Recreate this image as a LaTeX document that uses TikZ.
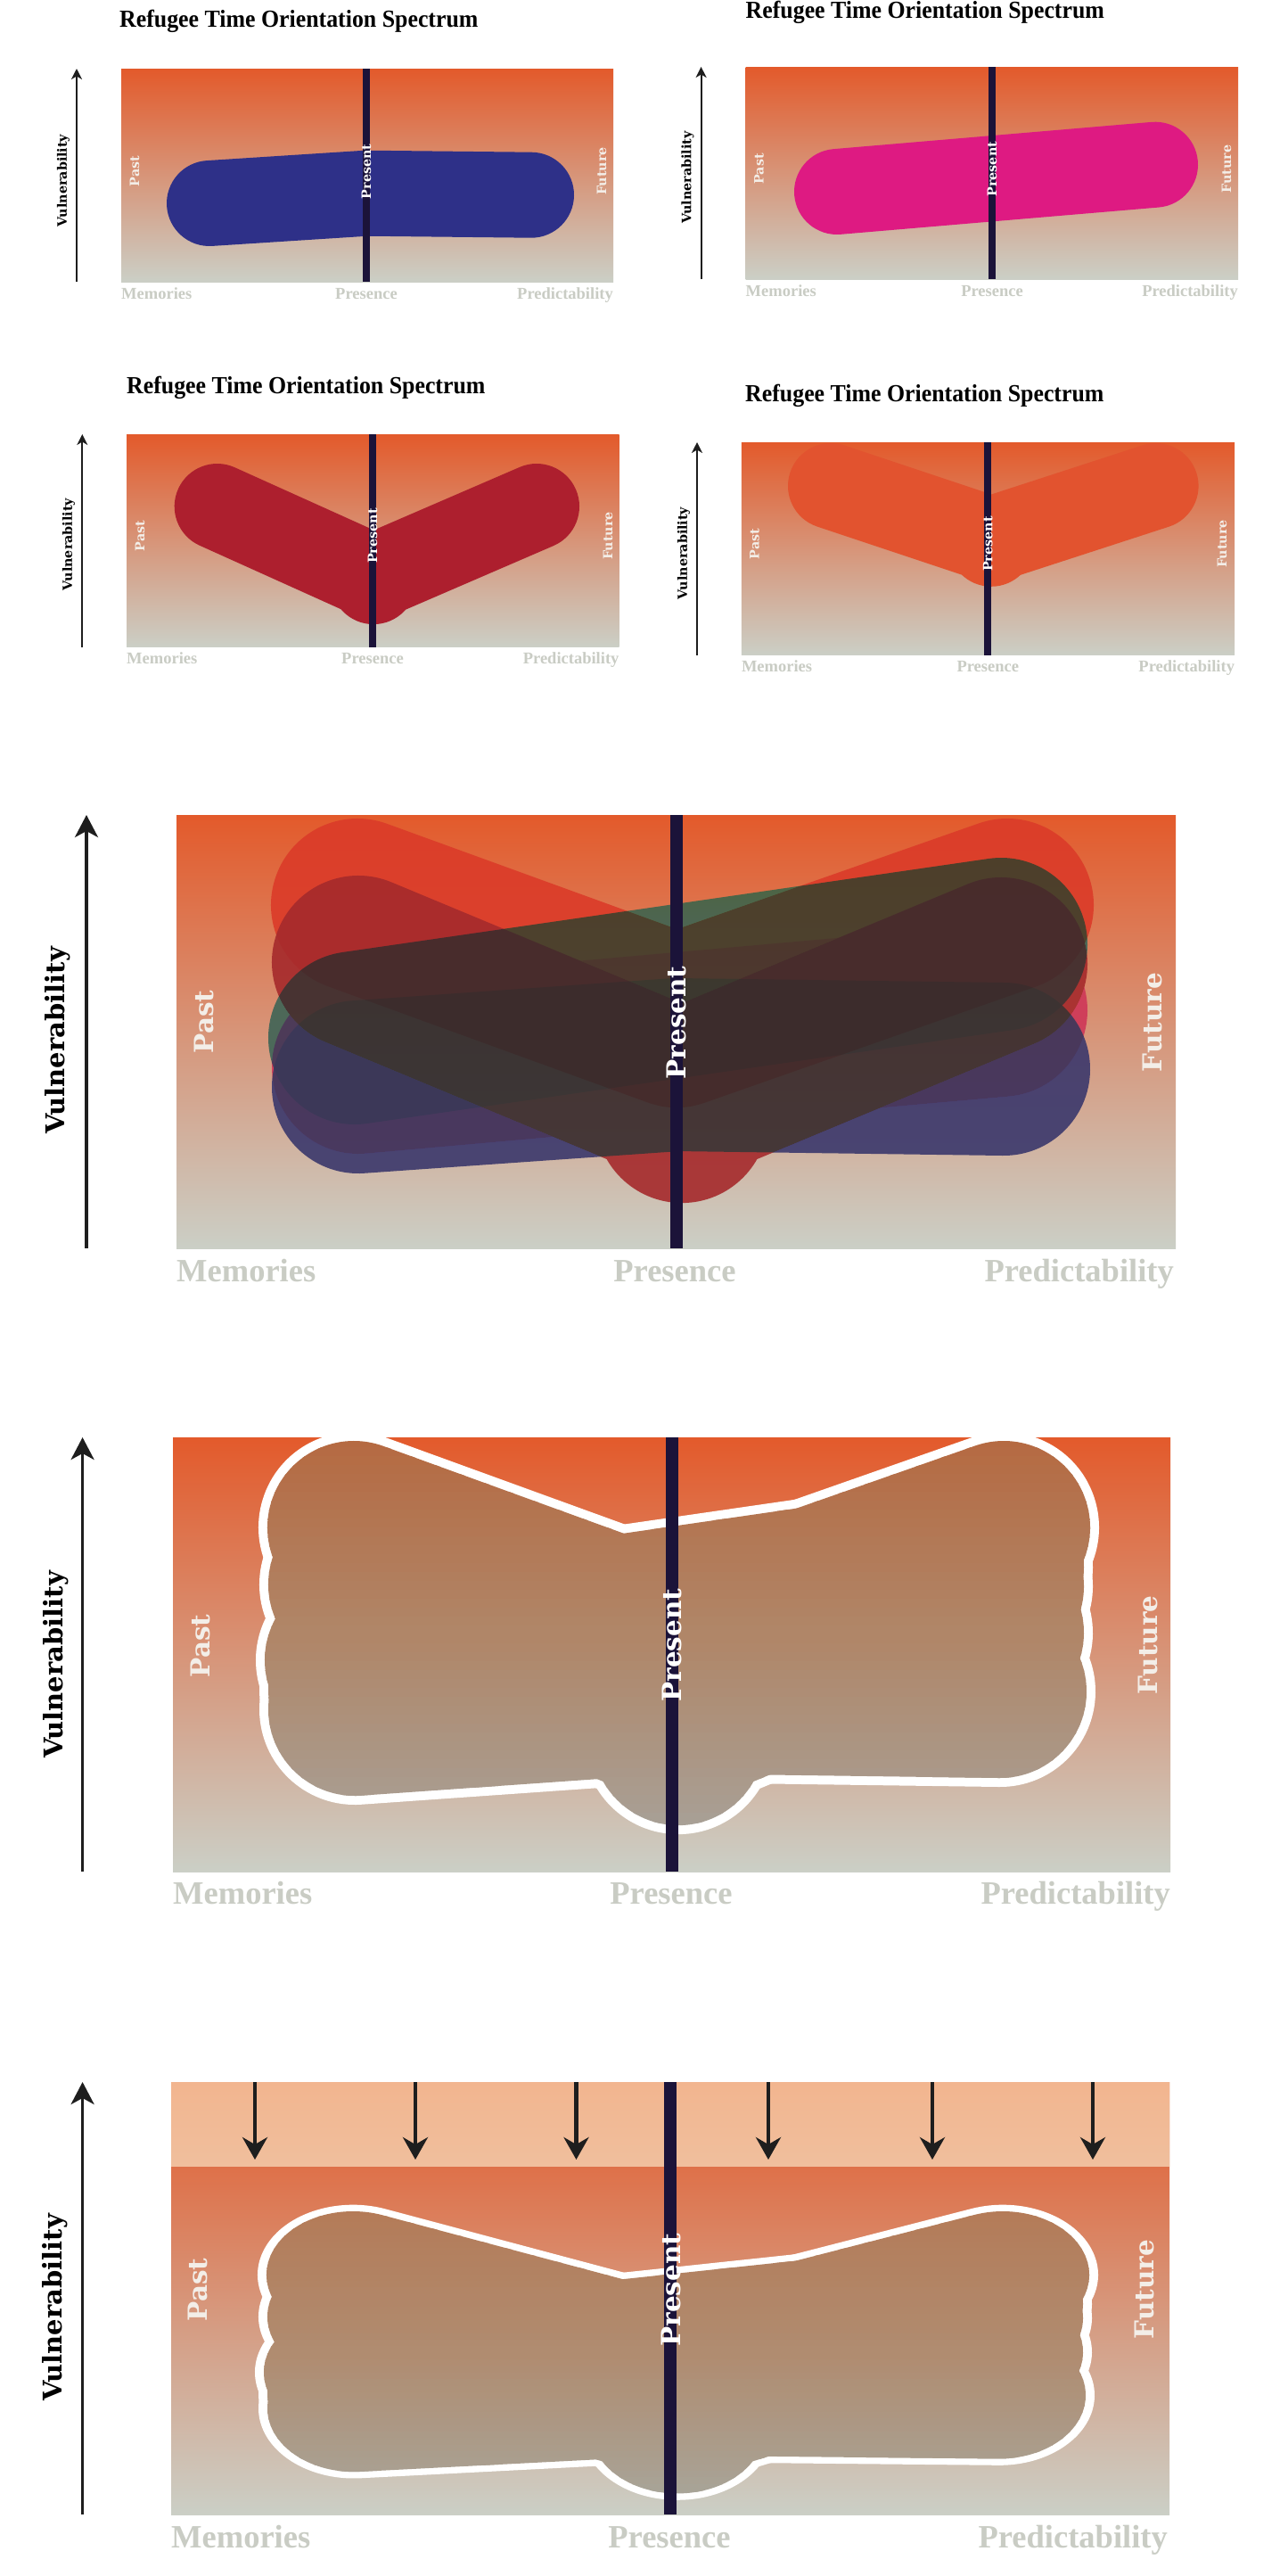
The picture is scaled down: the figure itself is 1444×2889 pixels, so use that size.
\documentclass[tikz,border=0pt]{standalone}
\usepackage{fontspec}
\usepackage{graphicx}
\setmainfont{Liberation Serif}
\newfontfamily\slab{DejaVu Serif}
\usetikzlibrary{arrows.meta}

\definecolor{bgtop}{HTML}{E35A2B}
\definecolor{bgmid}{HTML}{DB9366}
\definecolor{bgbot}{HTML}{CBCFC6}
\definecolor{presc}{HTML}{1B1339}
\definecolor{labgray}{HTML}{C9CCC4}
\definecolor{sidec}{HTML}{F3EEE8}
\definecolor{navyS}{HTML}{2E3088}
\definecolor{pinkS}{HTML}{DE1A82}
\definecolor{redS}{HTML}{AD1F2E}
\definecolor{oranS}{HTML}{E2532F}
\definecolor{cA}{HTML}{DB3B29}
\definecolor{cB}{HTML}{A52A2C}
\definecolor{cC}{HTML}{3E6456}
\definecolor{cD}{HTML}{CF3758}
\definecolor{cE}{HTML}{3B386C}
\definecolor{bsixtop}{HTML}{B56A42}
\definecolor{bsixmid}{HTML}{B08668}
\definecolor{bsixbot}{HTML}{A8A096}
\definecolor{bsevtop}{HTML}{B47B58}
\definecolor{bsevmid}{HTML}{B08C70}
\definecolor{bsevbot}{HTML}{A8A498}
\definecolor{bandtop}{HTML}{F2B58F}
\definecolor{bandbot}{HTML}{F0BF9D}
\definecolor{arrc}{HTML}{1E1E1E}

\newcommand\ttltext{\scalebox{0.94}[1]{\bfseries Refugee Time Orientation Spectrum}}

\tikzset{
  bgbox/.style={top color=bgtop, middle color=bgmid, bottom color=bgbot, draw=none},
  shp/.style={line width=#1, line cap=round, line join=round},
  presS/.style={draw=presc, line width=8pt},
  presL/.style={draw=presc, line width=14pt},
  ttl/.style={font=\fontsize{27.5pt}{30pt}\selectfont, inner sep=0pt},
  vulS/.style={font=\slab\bfseries\fontsize{14.3pt}{16pt}\selectfont, rotate=90, inner sep=0pt},
  vulL/.style={font=\slab\bfseries\fontsize{29pt}{32pt}\selectfont, rotate=90, inner sep=0pt},
  sideS/.style={font=\slab\bfseries\fontsize{14.3pt}{16pt}\selectfont, rotate=90, inner sep=0pt, text=sidec},
  sideL/.style={font=\slab\bfseries\fontsize{29.5pt}{32pt}\selectfont, rotate=90, inner sep=0pt, text=sidec},
  ptxtS/.style={sideS, text=white},
  ptxtL/.style={sideL, text=white},
  lblS/.style={font=\bfseries\fontsize{18.5pt}{20pt}\selectfont, text=labgray, inner sep=0pt},
  lblL/.style={font=\bfseries\fontsize{36.5pt}{40pt}\selectfont, text=labgray, inner sep=0pt},
  varrS/.style={draw=arrc, line width=1.8pt, -{Stealth[length=12pt,width=12pt,inset=3.5pt]}},
  varrL/.style={draw=arrc, line width=3.5pt, -{Stealth[length=25pt,width=26pt,inset=7pt]}},
  darr/.style={draw=arrc, line width=4.5pt, -{Stealth[length=25pt,width=28pt,inset=8pt]}},
  ring/.style={line width=214pt, draw=white, line cap=round, line join=round},
}

% the five shapes of the overlay (each a single path, so opacity is applied once)
\newcommand\boneshapes[1]{%
  \draw[#1] (401,1015) -- (759,1145) -- (1130,1015);
  \draw[#1] (402,1079) -- (765,1230) -- (1123,1081) (765,1252) -- (765,1252.1);
  \draw[#1] (398,1164) -- (1123,1059);
  \draw[#1] (402,1197) -- (1123,1133);
  \draw[#1] (402,1219) -- (759,1194) -- (1126,1199);
}

\newcommand\bonefill[3]{%
  \foreach \i in {0,...,43}{%
    \pgfmathsetmacro\ya{915+10*\i}%
    \pgfmathsetmacro\yb{\ya+11}%
    \ifnum\i<22
      \pgfmathtruncatemacro\pa{\i*100/21}%
      \colorlet{bandcol}{#2!\pa!#1}%
    \else
      \pgfmathtruncatemacro\pa{(\i-22)*100/21}%
      \colorlet{bandcol}{#3!\pa!#2}%
    \fi
    \begin{scope}
      \clip (150,\ya) rectangle (1350,\yb);
      \boneshapes{line width=194pt, draw=bandcol, line cap=round, line join=round}
    \end{scope}
  }%
}

\begin{document}
\begin{tikzpicture}[x=1pt,y=-1pt]
\useasboundingbox (0,0) rectangle (1444,2889);
\fill[white] (0,0) rectangle (1444,2889);

% ---------------- Panel 1 ----------------
\shade[bgbox] (136,77) rectangle (688,316);
\draw[shp=96pt, draw=navyS] (235,228) -- (411,216.7) -- (596,218.7);
\coordinate (p1t) at (411,77); \coordinate (p1b) at (411,316);
\draw[presS] (p1t) -- (p1b);
\node[ttl, anchor=base west] (t1) at (134,30.5) {\ttltext};
\node[vulS] (vl1) at (71,202.5) {Vulnerability};
\coordinate (va1) at (86,316); \coordinate (vb1) at (86,77);
\draw[varrS] (va1) -- (vb1);
\node[sideS] (pa1) at (151,192) {Past};
\node[sideS] (fu1) at (675,192) {Future};
\node[ptxtS] (pr1) at (411,192.5) {Present};
\node[lblS, anchor=base west] (m1) at (136,335) {Memories};
\node[lblS, anchor=base] (pc1) at (411,335) {Presence};
\node[lblS, anchor=base east] (pd1) at (688,335) {Predictability};

% ---------------- Panel 2 ----------------
\shade[bgbox] (836.5,75) rectangle (1389,313);
\draw[shp=96pt, draw=pinkS] (939,215) -- (1296,184.7);
\coordinate (p2t) at (1113,75); \coordinate (p2b) at (1113,313);
\draw[presS] (p2t) -- (p2b);
\node[ttl, anchor=base west] (t2) at (836.5,20.7) {\ttltext};
\node[vulS] (vl2) at (771.6,199) {Vulnerability};
\coordinate (va2) at (786.6,313); \coordinate (vb2) at (786.6,75);
\draw[varrS] (va2) -- (vb2);
\node[sideS] (pa2) at (851.5,189.3) {Past};
\node[sideS] (fu2) at (1376,189.5) {Future};
\node[ptxtS] (pr2) at (1113,189.7) {Present};
\node[lblS, anchor=base west] (m2) at (836.5,332.7) {Memories};
\node[lblS, anchor=base] (pc2) at (1113,332.7) {Presence};
\node[lblS, anchor=base east] (pd2) at (1389,332.7) {Predictability};

% ---------------- Panel 3 ----------------
\shade[bgbox] (142,487) rectangle (694.6,725.7);
\draw[shp=96pt, draw=redS] (243.7,568) -- (419,647) -- (602,568) (419,652) -- (419,652.1);
\coordinate (p3t) at (418,487); \coordinate (p3b) at (418,725.7);
\draw[presS] (p3t) -- (p3b);
\node[ttl, anchor=base west] (t3) at (142,441.7) {\ttltext};
\node[vulS] (vl3) at (77,610.7) {Vulnerability};
\coordinate (va3) at (92.3,725.7); \coordinate (vb3) at (92.3,487);
\draw[varrS] (va3) -- (vb3);
\node[sideS] (pa3) at (157,601) {Past};
\node[sideS] (fu3) at (682,601) {Future};
\node[ptxtS] (pr3) at (418,601) {Present};
\node[lblS, anchor=base west] (m3) at (142,744.3) {Memories};
\node[lblS, anchor=base] (pc3) at (418,744.3) {Presence};
\node[lblS, anchor=base east] (pd3) at (694.6,744.3) {Predictability};

% ---------------- Panel 4 ----------------
\shade[bgbox] (831.8,496) rectangle (1385.2,734.7);
\draw[shp=96pt, draw=oranS] (932,545) -- (1112,605) -- (1296.6,545) (1112,609.7) -- (1112,609.8);
\coordinate (p4t) at (1108.3,496); \coordinate (p4b) at (1108.3,734.7);
\draw[presS] (p4t) -- (p4b);
\node[ttl, anchor=base west] (t4) at (836,450) {\ttltext};
\node[vulS] (vl4) at (767,620.5) {Vulnerability};
\coordinate (va4) at (782,734.7); \coordinate (vb4) at (782,496);
\draw[varrS] (va4) -- (vb4);
\node[sideS] (pa4) at (846.6,610) {Past};
\node[sideS] (fu4) at (1371,610) {Future};
\node[ptxtS] (pr4) at (1108.3,610) {Present};
\node[lblS, anchor=base west] (m4) at (831.8,753.3) {Memories};
\node[lblS, anchor=base] (pc4) at (1108.3,753.3) {Presence};
\node[lblS, anchor=base east] (pd4) at (1385.2,753.3) {Predictability};

% ---------------- Panel 5 (overlay) ----------------
\shade[bgbox] (198,914) rectangle (1319,1400);
\begin{scope}[blend mode=darken]
  \draw[shp=194pt, draw=cA, draw opacity=0.9] (401,1015) -- (759,1145) -- (1130,1015);
  \draw[shp=194pt, draw=cB, draw opacity=0.9] (402,1079) -- (765,1230) -- (1123,1081) (765,1252) -- (765,1252.1);
  \draw[shp=194pt, draw=cC, draw opacity=0.9] (398,1164) -- (1123,1059);
  \draw[shp=194pt, draw=cD, draw opacity=0.9] (402,1197) -- (1123,1133);
  \draw[shp=194pt, draw=cE, draw opacity=0.9] (402,1219) -- (759,1194) -- (1126,1199);
\end{scope}
\coordinate (p5t) at (759,914); \coordinate (p5b) at (759,1400);
\draw[presL] (p5t) -- (p5b);
\node[vulL] (vl5) at (65,1167) {Vulnerability};
\coordinate (va5) at (97,1400); \coordinate (vb5) at (97,914);
\draw[varrL] (va5) -- (vb5);
\node[sideL] (pa5) at (229,1146) {Past};
\node[sideL] (fu5) at (1293,1146.5) {Future};
\node[ptxtL] (pr5) at (759,1147) {Present};
\node[lblL, anchor=base west] (m5) at (198,1437) {Memories};
\node[lblL, anchor=base] (pc5) at (757,1437) {Presence};
\node[lblL, anchor=base east] (pd5) at (1317,1437) {Predictability};

% ---------------- Panel 6 (outline) ----------------
\shade[bgbox] (194,1612) rectangle (1313,2099);
\begin{scope}[shift={(-4,698)}]
  \boneshapes{ring}
  \bonefill{bsixtop}{bsixmid}{bsixbot}
\end{scope}
\coordinate (p6t) at (754,1612); \coordinate (p6b) at (754,2099);
\draw[presL] (p6t) -- (p6b);
\node[vulL] (vl6) at (63,1867) {Vulnerability};
\coordinate (va6) at (92.6,2099); \coordinate (vb6) at (92.6,1612);
\draw[varrL] (va6) -- (vb6);
\node[sideL] (pa6) at (224.5,1846) {Past};
\node[sideL] (fu6) at (1288,1845) {Future};
\node[ptxtL] (pr6) at (754,1845) {Present};
\node[lblL, anchor=base west] (m6) at (194,2135) {Memories};
\node[lblL, anchor=base] (pc6) at (753,2135) {Presence};
\node[lblL, anchor=base east] (pd6) at (1313,2135) {Predictability};

% ---------------- Panel 7 (pressure) ----------------
\shade[bgbox] (192,2335) rectangle (1312,2820);
\shade[top color=bandtop, bottom color=bandbot, draw=none] (192,2335) rectangle (1312,2429);
\begin{scope}[transform canvas={shift={(-5,2480)}}]
  \begin{scope}[transform canvas={yscale=0.734}]
    \begin{scope}[shift={(0,-918)}]
      \boneshapes{ring}
      \bonefill{bsevtop}{bsevmid}{bsevbot}
    \end{scope}
  \end{scope}
\end{scope}
\coordinate (p7t) at (752,2335); \coordinate (p7b) at (752,2820);
\draw[presL] (p7t) -- (p7b);
\foreach \k/\xx in {1/286,2/466,3/646.5,4/862,5/1046,6/1226}{
  \coordinate (da\k) at (\xx,2335); \coordinate (db\k) at (\xx,2422);
  \draw[darr] (da\k) -- (db\k);
}
\node[vulL] (vl7) at (62,2588) {Vulnerability};
\coordinate (va7) at (92.6,2820); \coordinate (vb7) at (92.6,2335);
\draw[varrL] (va7) -- (vb7);
\node[sideL] (pa7) at (222,2568) {Past};
\node[sideL] (fu7) at (1284,2567.5) {Future};
\node[ptxtL] (pr7) at (752.5,2568) {Present};
\node[lblL, anchor=base west] (m7) at (192,2857) {Memories};
\node[lblL, anchor=base] (pc7) at (751,2857) {Presence};
\node[lblL, anchor=base east] (pd7) at (1310,2857) {Predictability};
\end{tikzpicture}
\end{document}
